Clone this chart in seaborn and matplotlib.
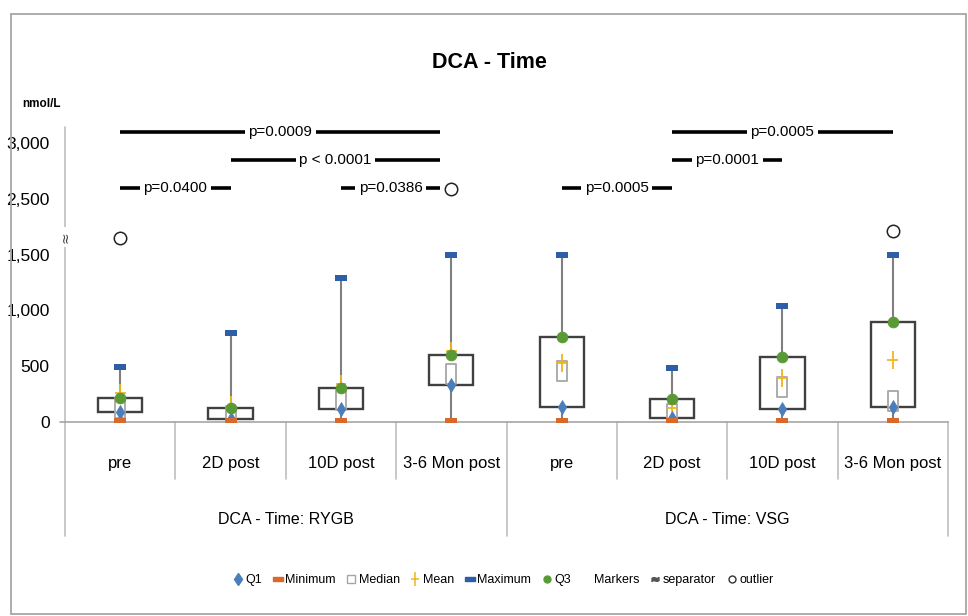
import numpy as np
import pandas as pd
import seaborn as sns
import matplotlib
import matplotlib.pyplot as plt
from matplotlib.path import Path
from matplotlib.patches import Rectangle
from matplotlib.lines import Line2D

sns.set_theme(style="white")
plt.rcParams['font.family'] = ['Liberation Sans', 'DejaVu Sans']
plt.rcParams['text.color'] = 'black'
plt.rcParams['xtick.color'] = 'black'
plt.rcParams['ytick.color'] = 'black'

# categories
times = ["pre", "2D post", "10D post", "3-6 Mon post"] * 2
groups = ["DCA - Time: RYGB", "DCA - Time: VSG"]

# box statistics (nmol/L, axis units)
q1 = [95, 30, 120, 335, 140, 40, 115, 135]
q3 = [220, 130, 310, 600, 760, 205, 586, 893]
median = [130, 45, 195, 434, 460, 75, 320, 190]
mean = [260, 150, 345, 640, 530, 125, 393, 556]
minimum = [12, 12, 12, 12, 12, 12, 12, 12]
maximum = [497, 795, 1290, 1495, 1495, 482, 1038, 1495]

# outliers (axis units, above the break)
outlier_pos = [0, 3, 7]
outlier_val = [1650, 2085, 1710]

# axis ticks (axis is broken between 1,500 and 2,500)
tick_pos = [0, 500, 1000, 1500, 2000, 2500]
tick_lab = ["0", "500", "1,000", "1,500", "2,500", "3,000"]

# significance brackets: (from, to, label, level)
brackets = [
    (0, 2.9, "p=0.0009", 2596),
    (1, 2.9, "p < 0.0001", 2347),
    (0, 1, "p=0.0400", 2095),
    (2, 2.9, "p=0.0386", 2095),
    (4, 5, "p=0.0005", 2095),
    (5, 6, "p=0.0001", 2347),
    (5, 7, "p=0.0005", 2596),
]

df = pd.DataFrame({"pos": np.arange(len(times)), "time": times,
                   "q1": q1, "q3": q3, "median": median, "mean": mean,
                   "min": minimum, "max": maximum})
out_df = pd.DataFrame({"pos": outlier_pos, "val": outlier_val})

c_q1 = "#4a7ebb"
c_min = "#d9692a"
c_max = "#2e5ea8"
c_q3 = "#5a9a35"
c_mean = "#f0b41c"
c_med = "#a6a6a6"

bar_marker = Path([(-1, -0.42), (1, -0.42), (1, 0.42), (-1, 0.42), (-1, -0.42)], closed=True)
med_marker = Path([(-0.5, -1), (0.5, -1), (0.5, 1), (-0.5, 1), (-0.5, -1)], closed=True)
plus_marker = Path([(-0.6, 0), (0.6, 0), (0, -1), (0, 1)],
                   [Path.MOVETO, Path.LINETO, Path.MOVETO, Path.LINETO])

fig = plt.figure(figsize=(9.68, 6.16), dpi=100)
ax = fig.add_axes([65 / 968, 1 - 422.3 / 616, (948 - 65) / 968, (422.3 - 127) / 616])

# whiskers
ax.vlines(df["pos"], df["min"], df["max"], color="#7f7f7f", lw=1.5, zorder=1)
# boxes
ax.bar(df["pos"], df["q3"] - df["q1"], bottom=df["q1"], width=0.4,
       color="white", edgecolor="#404040", linewidth=1.7, zorder=2)

sns.scatterplot(data=df, x="pos", y="median", marker=med_marker, s=200,
                facecolor="white", edgecolor=c_med, linewidth=1.3, ax=ax, zorder=3)
sns.scatterplot(data=df, x="pos", y="mean", marker=plus_marker, s=170,
                facecolor="none", edgecolor=c_mean, linewidth=1.3, ax=ax, zorder=4)
sns.scatterplot(data=df, x="pos", y="q1", marker="d", s=50,
                color=c_q1, edgecolor=c_q1, ax=ax, zorder=5)
sns.scatterplot(data=df, x="pos", y="min", marker=bar_marker, s=85,
                color=c_min, edgecolor=c_min, linewidth=0, ax=ax, zorder=5)
sns.scatterplot(data=df, x="pos", y="max", marker=bar_marker, s=85,
                color=c_max, edgecolor=c_max, linewidth=0, ax=ax, zorder=5)
sns.scatterplot(data=df, x="pos", y="q3", marker="o", s=60,
                color=c_q3, edgecolor=c_q3, ax=ax, zorder=6)
sns.scatterplot(data=out_df, x="pos", y="val", marker="o", s=80,
                facecolor="white", edgecolor="#222222", linewidth=1.1, ax=ax, zorder=6)

ax.set_xlim(-0.5, 7.5)
ax.set_ylim(0, 2640)
ax.set_yticks(tick_pos)
ax.set_yticklabels(tick_lab, fontsize=12.5)
ax.set_xticks(df["pos"])
ax.set_xticklabels(times, fontsize=12)
ax.tick_params(axis="y", length=0, pad=11)
ax.tick_params(axis="x", length=0, pad=24)
ax.set_xlabel("")
ax.set_ylabel("")
for s in ["top", "right", "left"]:
    ax.spines[s].set_visible(False)
ax.spines["bottom"].set_color("#a6a6a6")
ax.spines["bottom"].set_linewidth(1.2)
ax.grid(False)

# axis lines and category separators
trans = ax.get_xaxis_transform()
gc = "#bfbfbf"
ax.plot([-0.5, -0.5], [-0.386, 1], transform=trans, color=gc, lw=1.2, clip_on=False)
ax.plot([7.5, 7.5], [-0.386, 0], transform=trans, color=gc, lw=1.2, clip_on=False)
ax.plot([3.5, 3.5], [-0.386, 0], transform=trans, color=gc, lw=1.2, clip_on=False)
for xs in [0.5, 1.5, 2.5, 4.5, 5.5, 6.5]:
    ax.plot([xs, xs], [-0.193, 0], transform=trans, color=gc, lw=1.2, clip_on=False)
ax.plot([-0.545, -0.5], [0, 0], transform=trans, color="#a6a6a6", lw=1.2, clip_on=False)

for gi, g in enumerate(groups):
    ax.text(1.5 + 4 * gi, -0.33, g, transform=trans, ha="center", va="center", fontsize=11.5)

# axis break
ax.text(-0.5, 1655, "\u2248", rotation=90, ha="center", va="center", fontsize=10,
        family=["DejaVu Sans"], color="#444444",
        bbox=dict(facecolor="white", edgecolor="none", pad=3), clip_on=False, zorder=7)

# significance brackets
for x0, x1, lab, lev in brackets:
    ax.plot([x0, x1], [lev, lev], color="black", lw=2.6, solid_capstyle="butt",
            clip_on=False, zorder=7)
    ax.text((x0 + x1) / 2, lev, lab, ha="center", va="center", fontsize=11,
            bbox=dict(facecolor="white", edgecolor="none", pad=2.5), zorder=8)

fig.text(0.506, 1 - 63 / 616, "DCA - Time", ha="center", va="center",
         fontsize=15.5, fontweight="bold")
fig.text(22 / 968, 1 - 104 / 616, "nmol/L", ha="left", va="center",
         fontsize=8.5, fontweight="bold")

# outer chart border
fig.add_artist(Rectangle((11 / 968, 2 / 616), (966 - 11) / 968, (614 - 14) / 616,
                         transform=fig.transFigure, fill=False,
                         edgecolor="#a6a6a6", lw=1.3))

handles = [
    Line2D([], [], ls="", marker="d", color=c_q1, markersize=6),
    Line2D([], [], ls="", marker=bar_marker, color=c_min, markersize=7),
    Line2D([], [], ls="", marker="s", mfc="white", mec=c_med, markersize=6),
    Line2D([], [], ls="", marker=plus_marker, mfc="none", mec=c_mean, markersize=10, mew=1.1),
    Line2D([], [], ls="", marker=bar_marker, color=c_max, markersize=7),
    Line2D([], [], ls="", marker="o", color=c_q3, markersize=5),
    Line2D([], [], ls="", marker=None),
    Line2D([], [], ls="", marker="$\u2248$", color="#555555", markersize=5),
    Line2D([], [], ls="", marker="o", mfc="white", mec="#333333", markersize=5),
]
labels = ["Q1", "Minimum", "Median", "Mean", "Maximum", "Q3", "Markers", "separator", "outlier"]
fig.legend(handles, labels, loc="center", bbox_to_anchor=(0.52, 1 - 580 / 616),
           ncol=9, frameon=False, fontsize=9, handlelength=0.7, handletextpad=0.25,
           columnspacing=0.9)

fig.savefig("out.png", dpi=100)
